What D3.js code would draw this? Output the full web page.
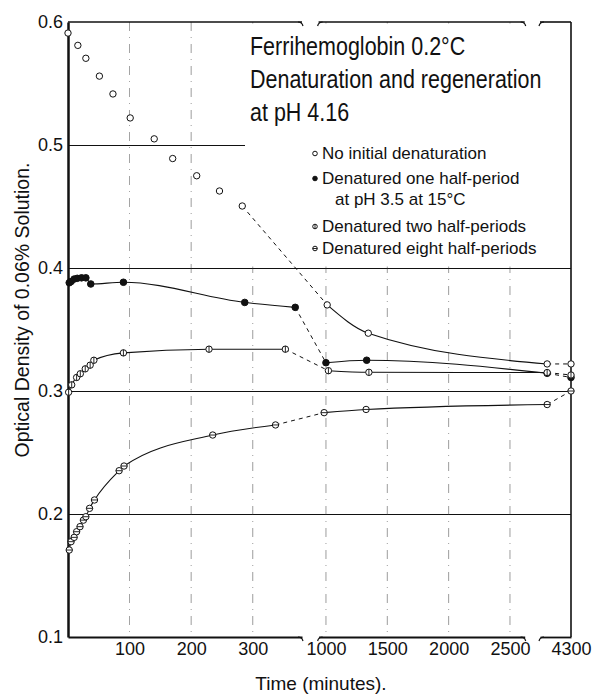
<!DOCTYPE html>
<html><head><meta charset="utf-8">
<script src="https://cdn.jsdelivr.net/npm/d3@7"></script>
<style>
body{margin:0;background:#fff}
svg{display:block}
text{font-family:"Liberation Sans",Arial,sans-serif;fill:#111}
</style>
</head><body>
<svg id="chart" width="594" height="697"></svg>
<script>
// ---------- data ----------
const seg1Ticks = [100, 200, 300];
const seg2Ticks = [1000, 1500, 2000, 2500];
const seg3Ticks = [4300];
const yTicks = [0.1, 0.2, 0.3, 0.4, 0.5, 0.6];
const gridYFull = [0.2, 0.3, 0.4];
const gridYShort = [0.5];

const titleLines = ["Ferrihemoglobin 0.2°C", "Denaturation and regeneration", "at pH 4.16"];
const legendLabels = ["No initial denaturation", "Denatured one half-period", "Denatured two half-periods", "Denatured eight half-periods"];
const legendSubLine = "at pH 3.5 at 15°C";

// No initial denaturation (open circles)
const s1Time  = [0, 16, 29, 51, 73, 101, 140, 170, 209, 246, 283, 1010, 1345, 3800, 4300];
const s1Value = [0.591, 0.581, 0.5705, 0.556, 0.5415, 0.522, 0.505, 0.489, 0.475, 0.4626, 0.4504, 0.370, 0.347, 0.322, 0.322];
// Denatured one half-period (filled circles)
const s2Time  = [2, 5, 10, 15, 22, 29, 37, 90, 287, 369, 1000, 1332, 3800, 4300];
const s2Value = [0.388, 0.389, 0.391, 0.3916, 0.392, 0.392, 0.387, 0.3884, 0.372, 0.368, 0.323, 0.325, 0.3144, 0.311];
// Denatured two half-periods (circle with vertical bar)
const s3Time  = [1, 6, 14, 20, 28, 36, 42, 90, 229, 353, 1020, 1350, 3800, 4300];
const s3Value = [0.299, 0.305, 0.311, 0.314, 0.318, 0.321, 0.325, 0.331, 0.334, 0.334, 0.3165, 0.3152, 0.315, 0.313];
// Denatured eight half-periods (circle with horizontal bar)
const s4Time  = [2, 5, 10, 14, 19.5, 25, 29, 35, 43, 83, 91, 235, 337, 985, 1327, 3800, 4300];
const s4Value = [0.1707, 0.1775, 0.181, 0.1856, 0.1897, 0.195, 0.1978, 0.2046, 0.2114, 0.2352, 0.239, 0.2642, 0.2724, 0.2824, 0.285, 0.289, 0.300];

// ---------- scales ----------
const xs = [
  d3.scaleLinear().domain([0, 380]).range([68, 302]),
  d3.scaleLinear().domain([940, 2620]).range([318.6, 524.7]),
  d3.scaleLinear().domain([3650, 4300]).range([540, 571])
];
const segTicks = [seg1Ticks, seg2Ticks, seg3Ticks];
function x(t) { return t <= 380 ? xs[0](t) : (t <= 2620 ? xs[1](t) : xs[2](t)); }
const y = d3.scaleLinear().domain([0.1, 0.6]).range([637, 22]);
const X0 = 68, X1 = 571, Y0 = 637, Y1 = 22;

const svg = d3.select("#chart");
const ink = "#111";

// ---------- grid ----------
const grid = svg.append("g");
gridYFull.forEach(v => grid.append("line")
  .attr("x1", X0).attr("x2", X1).attr("y1", Math.round(y(v)) + 0.5).attr("y2", Math.round(y(v)) + 0.5)
  .attr("stroke", "#111").attr("stroke-width", 1));
gridYShort.forEach(v => grid.append("line")
  .attr("x1", X0).attr("x2", 245).attr("y1", Math.round(y(v)) + 0.5).attr("y2", Math.round(y(v)) + 0.5)
  .attr("stroke", "#111").attr("stroke-width", 1));
[0, 1].forEach(i => segTicks[i].forEach(t => grid.append("line")
  .attr("x1", xs[i](t)).attr("x2", xs[i](t)).attr("y1", Y1).attr("y2", Y0)
  .attr("stroke", "#333").attr("stroke-width", 0.8)
  .attr("stroke-dasharray", "9,6,1,6").attr("opacity", 0.6)));

// mask behind title / legend
svg.append("rect").attr("x", 246).attr("y", 23.5).attr("width", 323.5).attr("height", y(0.4) - 25)
  .attr("fill", "#fff");

// ---------- frame & axes ----------
xs.forEach((sc, i) => {
  const g = svg.append("g").attr("transform", `translate(0,${Y0})`)
    .call(d3.axisBottom(sc).tickValues(segTicks[i]).tickSize(0).tickSizeOuter(0).tickPadding(5).tickFormat(d3.format("d")));
  g.select(".domain").attr("stroke", ink).attr("stroke-width", 1.8);
  g.selectAll("text").attr("font-size", 18).attr("fill", ink).style("font-family", '"Liberation Sans",Arial,sans-serif');
  const [r0, r1] = sc.range();
  svg.append("line").attr("x1", r0).attr("x2", r1).attr("y1", Y1).attr("y2", Y1)
    .attr("stroke", ink).attr("stroke-width", 1.6);
  const hooks = [];
  if (i > 0) hooks.push([r0, -1]);
  if (i < 2) hooks.push([r1, 1]);
  hooks.forEach(([hx, dir]) => {
    [Y0, Y1].forEach(hy => svg.append("path")
      .attr("d", `M${hx - dir * 4},${hy} Q${hx},${hy} ${hx + dir * 1},${hy + 4}`)
      .attr("fill", "none").attr("stroke", ink).attr("stroke-width", 1.2));
  });
});
svg.append("line").attr("x1", X1).attr("x2", X1).attr("y1", Y1).attr("y2", Y0)
  .attr("stroke", ink).attr("stroke-width", 1.6);
const ga = svg.append("g").attr("transform", `translate(${X0},0)`)
  .call(d3.axisLeft(y).tickValues(yTicks).tickSize(0).tickSizeOuter(0).tickPadding(5).tickFormat(d3.format(".1f")));
ga.select(".domain").attr("stroke", ink).attr("stroke-width", 2.5);
ga.selectAll("text").attr("font-size", 18).attr("fill", ink).style("font-family", '"Liberation Sans",Arial,sans-serif');

// axis titles
svg.append("text").attr("x", 321).attr("y", 690).attr("text-anchor", "middle")
  .attr("font-size", 19).text("Time (minutes).");
svg.append("text").attr("transform", "translate(29,310) rotate(-90)").attr("text-anchor", "middle")
  .attr("font-size", 19.5).text("Optical Density of 0.06% Solution.");

// ---------- markers ----------
function marker(g, kind, cx, cy, r) {
  const filled = kind === "filled";
  g.append("circle").attr("cx", cx).attr("cy", cy).attr("r", r)
    .attr("fill", filled ? ink : "#fff").attr("stroke", ink).attr("stroke-width", 1);
  if (kind === "vbar") g.append("line").attr("x1", cx).attr("x2", cx).attr("y1", cy - r).attr("y2", cy + r)
    .attr("stroke", ink).attr("stroke-width", 0.9);
  if (kind === "hbar") g.append("line").attr("x1", cx - r).attr("x2", cx + r).attr("y1", cy).attr("y2", cy)
    .attr("stroke", ink).attr("stroke-width", 0.9);
}

// ---------- series ----------
const series = [
  {t: s1Time, v: s1Value, kind: "open", firstRun: false},
  {t: s2Time, v: s2Value, kind: "filled", firstRun: true},
  {t: s3Time, v: s3Value, kind: "vbar", firstRun: true},
  {t: s4Time, v: s4Value, kind: "hbar", firstRun: true}
];
const line = d3.line().x(d => x(d.t)).y(d => y(d.v)).curve(d3.curveMonotoneX);
const lineG = svg.append("g").attr("fill", "none").attr("stroke", ink);
const markG = svg.append("g");
series.forEach(s => {
  const pts = s.t.map((t, i) => ({t, v: s.v[i]}));
  const runA = pts.filter(p => p.t <= 380);
  const runB = pts.filter(p => p.t >= 940 && p.t <= 3800);
  const tail = pts.filter(p => p.t >= 3800);
  if (s.firstRun) lineG.append("path").attr("d", line(runA)).attr("stroke-width", 1.1);
  lineG.append("path").attr("d", line(runB)).attr("stroke-width", 1.1);
  [[runA[runA.length - 1], runB[0]], tail].forEach(pair => lineG.append("path")
    .attr("d", d3.line().x(d => x(d.t)).y(d => y(d.v))(pair))
    .attr("stroke-width", 1).attr("stroke-dasharray", "4,4"));
  pts.forEach(p => marker(markG, s.kind, x(p.t), y(p.v), s.kind === "filled" ? 3.3 : 3.2));
});

// ---------- title & legend ----------
const tg = svg.append("g");
titleLines.forEach((s, i) => tg.append("text")
  .attr("transform", `translate(250,${55 + i * 33}) scale(1,1.18)`)
  .attr("font-size", 21.5).text(s));
const legRows = [159, 184, 232, 254];
const kinds = ["open", "filled", "vbar", "hbar"];
legendLabels.forEach((s, i) => {
  tg.append("text").attr("x", 322).attr("y", legRows[i]).attr("font-size", 17).text(s);
  marker(tg, kinds[i], 315, legRows[i] - 5.5, 2.3);
});
tg.append("text").attr("x", 335).attr("y", 205).attr("font-size", 17).text(legendSubLine);
</script>
</body></html>
